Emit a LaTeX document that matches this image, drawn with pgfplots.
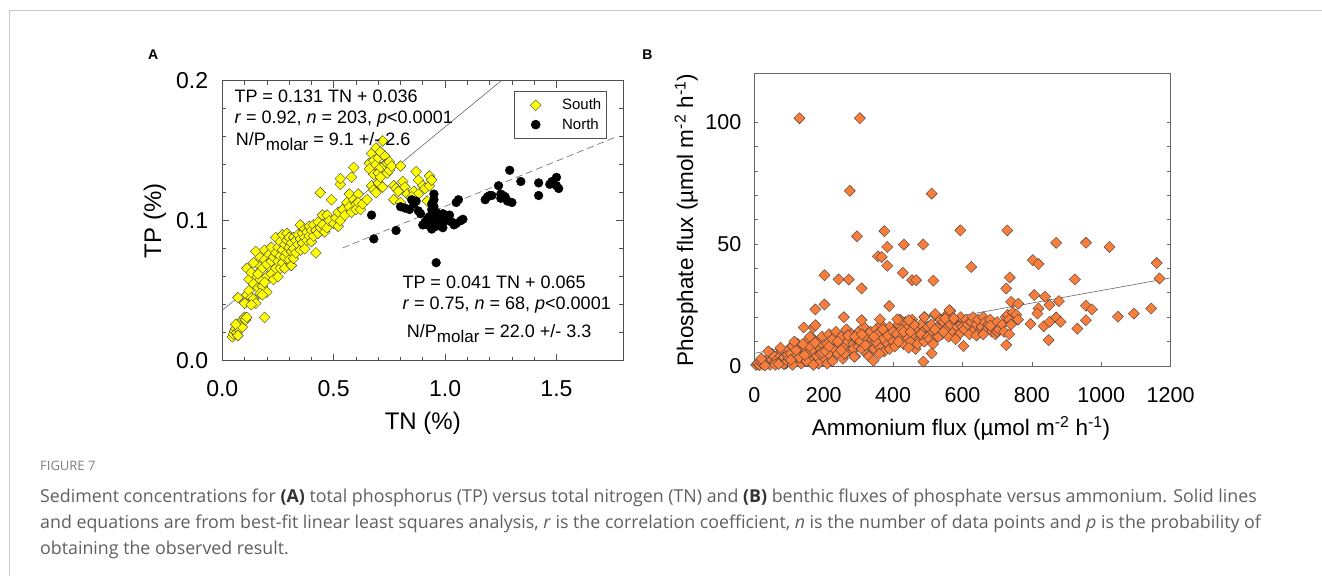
\documentclass[border=0pt]{standalone}
\usepackage{fontspec}
\setmainfont{Liberation Sans}
\newfontfamily\capfont{Open Sans}
\usepackage{pgfplots}
\pgfplotsset{compat=1.18}
\definecolor{southyellow}{RGB}{255,255,0}
\definecolor{fluxorange}{RGB}{250,125,60}
\definecolor{framegray}{RGB}{200,200,200}
\definecolor{capgray}{RGB}{95,95,95}
\definecolor{axgray}{RGB}{80,80,80}

\begin{document}
\begin{tikzpicture}[x=1pt,y=1pt]
\path[use as bounding box] (0,0) rectangle (1322,576);
\draw[framegray, line width=1pt] (9.5,0) -- (9.5,565) -- (1322,565);

% ---------------- Panel A ----------------
\begin{axis}[at={(222.3pt,215.3pt)}, anchor=south west, scale only axis,
  width=401pt, height=280pt,
  xmin=0, xmax=1.8, ymin=0, ymax=0.2,
  xtick={0,0.5,1,1.5}, xticklabels={0.0,0.5,1.0,1.5},
  ytick={0,0.1,0.2}, yticklabels={0.0,0.1,0.2},
  minor x tick num=4, minor y tick num=4,
  tick align=inside, major tick length=7pt, minor tick length=4pt,
  axis line style={axgray, line width=0.9pt},
  every tick/.style={axgray, line width=0.7pt},
  ticklabel style={font=\fontsize{23}{23}\selectfont},
  xticklabel style={anchor=center, yshift=-27.6pt},
  yticklabel style={anchor=east, inner sep=0pt, xshift=-14pt},
  xlabel={TN (\%)}, ylabel={TP (\%)},
  label style={font=\fontsize{24}{24}\selectfont},
  xlabel style={at={(axis description cs:0.5,-0.2236)}, anchor=center},
  ylabel style={at={(axis description cs:-0.1678,0.5)}, anchor=center, rotate=0},
  legend style={at={(axis cs:1.309,0.19286)}, anchor=north west, draw=axgray, line width=0.8pt,
    font=\fontsize{15}{15}\selectfont, inner xsep=4pt, inner ysep=7pt, row sep=5pt,
    nodes={inner sep=1pt}},
  legend cell align=left,
  legend image code/.code={\path (-17pt,0pt) (0pt,0pt); \draw[#1] plot coordinates {(0pt,0pt)}; \path (25pt,0pt);},
  clip=true,
]
\addplot[only marks, mark=square*, mark size=3.8pt,
  mark options={rotate=45, fill=southyellow, draw=black!75, line width=0.4pt}] coordinates {
(0.045,0.017)(0.05,0.019)(0.055,0.021)(0.06,0.023)(0.065,0.020)(0.07,0.025)(0.075,0.022)(0.08,0.027)
(0.085,0.028)(0.09,0.024)(0.095,0.030)(0.10,0.031)(0.105,0.029)(0.11,0.031)(0.07,0.018)(0.06,0.026)(0.19,0.031)
(0.07,0.045)(0.11,0.047)(0.10,0.041)(0.12,0.050)(0.13,0.045)(0.14,0.044)(0.15,0.041)(0.13,0.040)(0.12,0.058)
(0.11,0.066)(0.14,0.055)(0.15,0.061)(0.16,0.052)(0.17,0.058)(0.15,0.078)(0.16,0.069)(0.17,0.074)(0.18,0.066)
(0.18,0.053)(0.19,0.079)(0.19,0.072)(0.20,0.060)(0.20,0.049)(0.21,0.067)(0.21,0.076)(0.13,0.063)(0.14,0.070)
(0.16,0.062)(0.17,0.048)(0.18,0.047)(0.19,0.056)(0.20,0.069)(0.22,0.062)(0.22,0.071)(0.22,0.081)(0.23,0.074)
(0.23,0.058)(0.24,0.077)(0.24,0.066)(0.24,0.088)(0.25,0.071)(0.25,0.081)(0.25,0.060)(0.26,0.075)(0.26,0.085)
(0.26,0.066)(0.27,0.079)(0.27,0.070)(0.27,0.090)(0.28,0.083)(0.28,0.074)(0.28,0.066)(0.29,0.086)(0.29,0.091)
(0.29,0.077)(0.30,0.072)(0.30,0.081)(0.30,0.088)(0.31,0.084)(0.31,0.078)(0.31,0.068)(0.32,0.088)(0.32,0.080)
(0.32,0.073)(0.33,0.086)(0.33,0.077)(0.34,0.090)(0.34,0.083)(0.35,0.097)(0.35,0.087)(0.35,0.079)(0.36,0.091)
(0.36,0.084)(0.37,0.094)(0.37,0.088)(0.37,0.080)(0.38,0.086)(0.38,0.092)(0.39,0.096)(0.39,0.089)(0.40,0.093)
(0.40,0.085)(0.41,0.097)(0.41,0.089)(0.42,0.077)(0.42,0.093)(0.43,0.099)(0.43,0.091)(0.44,0.095)(0.44,0.120)
(0.45,0.104)(0.45,0.097)(0.46,0.092)(0.47,0.095)(0.47,0.104)(0.48,0.100)(0.49,0.115)(0.50,0.098)(0.51,0.102)
(0.52,0.106)(0.52,0.096)(0.53,0.100)(0.53,0.126)(0.53,0.130)(0.54,0.108)(0.55,0.104)(0.56,0.113)(0.57,0.119)
(0.57,0.110)(0.58,0.131)(0.58,0.106)(0.59,0.138)(0.59,0.115)(0.60,0.112)(0.60,0.108)(0.61,0.119)(0.61,0.113)
(0.62,0.108)(0.63,0.112)(0.65,0.115)
(0.66,0.141)(0.66,0.137)(0.67,0.148)(0.67,0.125)(0.68,0.143)(0.68,0.133)(0.68,0.122)(0.69,0.152)(0.69,0.140)
(0.69,0.120)(0.70,0.145)(0.70,0.134)(0.70,0.127)(0.71,0.149)(0.71,0.138)(0.71,0.131)(0.72,0.157)(0.72,0.124)
(0.73,0.146)(0.73,0.140)(0.74,0.141)(0.74,0.134)(0.75,0.142)(0.75,0.136)(0.76,0.139)(0.77,0.125)(0.77,0.115)
(0.78,0.123)(0.79,0.121)(0.80,0.139)(0.80,0.113)(0.81,0.128)(0.82,0.124)(0.83,0.119)(0.86,0.121)(0.87,0.135)
(0.88,0.129)(0.88,0.119)(0.90,0.125)(0.91,0.123)(0.93,0.132)(0.93,0.125)(0.94,0.129)(0.92,0.114)(0.85,0.117)
};
\addlegendentry{South}
\addplot[only marks, mark=*, mark size=4.4pt, mark options={fill=black, draw=black}] coordinates {
(0.67,0.104)(0.68,0.087)(0.78,0.093)(0.96,0.070)(0.80,0.110)(0.82,0.109)(0.84,0.108)(0.85,0.115)(0.86,0.112)
(0.87,0.114)(0.88,0.107)(0.89,0.105)(0.90,0.097)(0.91,0.099)(0.92,0.097)(0.93,0.103)(0.93,0.100)(0.94,0.108)
(0.94,0.112)(0.95,0.119)(0.95,0.115)(0.95,0.104)(0.95,0.098)(0.96,0.101)(0.96,0.096)(0.97,0.100)(0.97,0.103)
(0.98,0.098)(0.99,0.095)(1.00,0.100)(1.01,0.102)(1.02,0.104)(1.03,0.099)(1.04,0.097)(1.05,0.098)(1.05,0.113)
(1.06,0.115)(1.07,0.100)(1.08,0.101)(1.18,0.115)(1.19,0.117)(1.20,0.118)(1.24,0.125)(1.25,0.116)(1.25,0.119)
(1.26,0.118)(1.27,0.117)(1.29,0.136)(1.30,0.113)(1.34,0.128)(1.42,0.127)(1.42,0.118)(1.47,0.126)(1.48,0.128)
(1.50,0.131)(1.50,0.125)(1.51,0.123)(1.00,0.104)(0.92,0.101)(0.94,0.094)(0.97,0.097)(0.99,0.105)(1.02,0.100)
(0.96,0.106)(0.95,0.110)(0.93,0.097)(1.21,0.118)(1.28,0.114)
};
\addlegendentry{North}
\addplot[black!60, line width=0.6pt, forget plot] coordinates {(0,0.036) (1.252,0.2)};
\addplot[black!60, line width=0.6pt, dash pattern=on 7pt off 4pt, forget plot] coordinates {(0.54,0.0805) (1.77,0.160)};
\end{axis}

% ---------------- Panel B ----------------
\begin{axis}[at={(754.4pt,210pt)}, anchor=south west, scale only axis,
  width=416.2pt, height=292.7pt,
  xmin=0, xmax=1200, ymin=0, ymax=120,
  xtick={0,200,400,600,800,1000,1200}, xticklabels={0,200,400,600,800,1000,1200},
  ytick={0,50,100}, yticklabels={0,50,100}, minor y tick num=4,
  xtick pos=bottom, ytick pos=both,
  tick align=inside, major tick length=4pt, minor tick length=4pt,
  axis line style={black!60, line width=0.9pt},
  every tick/.style={black!60, line width=0.7pt},
  ticklabel style={font=\fontsize{21.5}{21.5}\selectfont},
  xticklabel style={anchor=center, yshift=-29pt},
  yticklabel style={anchor=east, inner sep=0pt, xshift=-12.9pt},
  xlabel={Ammonium flux (µmol m\textsuperscript{-2} h\textsuperscript{-1})},
  ylabel={Phosphate flux (µmol m\textsuperscript{-2} h\textsuperscript{-1})},
  label style={font=\fontsize{22.5}{22.5}\selectfont},
  xlabel style={at={(axis description cs:0.4964,-0.2128)}, anchor=center},
  ylabel style={at={(axis description cs:-0.1641,0.4988)}, anchor=center},
  clip=true,
]
\addplot[only marks, mark=square*, mark size=3.95pt,
  mark options={rotate=45, fill=fluxorange, draw=black!75, line width=0.4pt}] coordinates {
(5,0.5)(10,1)(15,0.3)(20,1.5)(25,0.8)(30,2)(35,1)(40,3)(45,0.5)(50,2.5)(55,4)(60,1.5)(65,3)(70,5)(75,2)
(80,6)(85,3.5)(90,1)(95,4.5)(100,7)(30,0.2)(60,0.5)(85,0.8)(50,5)(70,0.8)(95,2)(100,3)(20,3)(40,6)(75,7.5)
(105,5)(110,8)(115,2)(120,4)(125,9)(130,6)(135,1)(140,3)(145,7)(150,10)(155,5)(160,8)(165,2)(170,11)(175,6)
(180,4)(185,9)(190,7)(195,12)(200,3)(110,0.5)(130,3.5)(150,2)(160,12)(175,9.5)(185,1)(190,5)(120,6.5)(140,9)
(200,8.5)(115,10)(105,2.5)(145,4.5)(170,0.5)(195,5.5)
(205,6)(210,9)(215,13)(220,4)(225,11)(230,7)(235,14)(240,5)(245,9)(250,12)(255,3)(260,8)(265,15)(270,10)
(275,6)(280,13)(285,9)(290,4)(295,11)(300,14)(210,1)(225,2)(240,10)(260,5)(270,12.5)(285,7)(300,8)(215,8)
(250,6.5)(290,12)
(305,10)(310,7)(315,16)(320,12)(325,5)(330,9)(335,14)(340,11)(345,7)(350,15)(355,13)(360,8)(365,17)(370,11)
(375,6)(380,14)(385,9)(390,16)(395,12)(400,10)(310,13)(330,4)(350,10)(370,15)(390,7)(320,8.5)(345,12)(360,5)
(385,12.5)(400,14)
(405,8)(410,13)(415,17)(420,11)(425,15)(430,9)(435,18)(440,12)(445,16)(450,10)(455,19)(460,13)(465,7)(470,15)
(475,11)(480,17)(485,14)(490,20)(495,12)(500,16)(415,10)(430,14)(450,14)(470,9)(490,10)(420,19)(445,7.5)
(460,17)(480,13)(500,12)
(505,11)(510,17)(515,14)(520,21)(525,12)(530,16)(535,19)(540,13)(545,18)(550,15)(555,21)(560,12)(565,17)
(570,20)(575,14)(580,18)(585,16)(590,13)(595,17)(600,16)(515,9)(530,12)(550,19.5)(565,22.5)(580,11)(520,15)
(545,14)(595,20)
(605,15)(610,19)(615,17)(620,13)(625,18)(630,20)(635,15)(640,17)(645,19)(650,14)(655,16)(660,20)(665,18)
(670,15)(675,17)(680,19)(685,14)(690,16)(695,13)(700,18)(640,12.5)(660,13)(680,16.5)(700,14)
(705,15)(715,17)(725,20)(730,21)(735,19)(740,17)(745,22)(755,21)(760,19)(720,14)(735,13)
(130,101.6)(304,101.6)(275,71.8)(511,70.7)(296,53.2)(375,55.3)(383,48.8)(431,49.8)(487,49.8)(594,55.6)
(729,55.6)(870,50.5)(956,50.5)(1024,48.8)(356,45.0)(367,44.7)(383,41.1)(625,40.6)(803,43.4)(819,41.8)
(1160,42.2)(202,37.2)(243,35.5)(272,35.5)(428,38.2)(455,35.2)(466,35.2)(516,35.0)(736,36.3)(924,35.5)
(1168,35.9)(309,31.8)(726,31.8)(202,25.2)(176,23.2)(389,24.6)(807,29.1)(838,28.4)(740,26.3)(761,25.6)
(878,26.6)(851,25.0)(819,23.6)(816,21.5)(956,24.7)(973,23.2)(796,17.2)(834,16.3)(851,18.1)(870,19.9)
(883,18.1)(931,15.3)(956,18.8)(1048,20.2)(1094,21.5)(1144,23.6)(848,10.6)(726,8.6)(603,8.2)(511,5.2)
(487,1.8)(343,2.2)(288,3.8)(258,20.0)(170,15.8)(142,15.8)(176,16.7)(309,18.8)(362,19.1)(412,19.1)(445,18.8)
(490,20.0)(562,22.9)(521,21.3)(575,19.5)
};
\addplot[black!60, line width=0.6pt] coordinates {(0,5.2) (1200,36.1)};
\end{axis}

% panel letters
\node[font=\bfseries\fontsize{14}{14}\selectfont] at (153.3,521) {A};
\node[font=\bfseries\fontsize{14}{14}\selectfont] at (647.4,521) {B};

% annotations panel A
\begin{scope}[every node/.style={anchor=base west, inner sep=0pt, font=\fontsize{18}{18}\selectfont}]
\node at (234.3,473.1) {TP = 0.131 TN + 0.036};
\node at (234.3,452.3) {\textit{r} = 0.92, \textit{n} = 203, \textit{p}<0.0001};
\node at (235.7,430.3) {N/P\raisebox{-5pt}{\fontsize{17}{17}\selectfont molar} = 9.1 +/- 2.6};
\node at (402.3,287.9) {TP = 0.041 TN + 0.065};
\node at (402.3,266.3) {\textit{r} = 0.75, \textit{n} = 68, \textit{p}<0.0001};
\node at (406.7,238.6) {N/P\raisebox{-5pt}{\fontsize{17}{17}\selectfont molar} = 22.0 +/- 3.3};
\end{scope}

% caption
\begin{scope}[every node/.style={anchor=base west, inner sep=0pt}]
\node[font=\capfont\fontsize{13}{13}\selectfont, text=capgray!80] at (40,105.4) {FIGURE 7};
\node[font=\capfont\fontsize{17.8}{17.8}\selectfont, text=capgray] at (40,74) {Sediment concentrations for \textbf{\color{black!80}(A)} total phosphorus (TP) versus total nitrogen (TN) and \textbf{\color{black!80}(B)} benthic fluxes of phosphate versus ammonium. Solid lines};
\node[font=\capfont\fontsize{17.8}{17.8}\selectfont, text=capgray] at (40,48) {and equations are from best-fit linear least squares analysis, \textit{r} is the correlation coefficient, \textit{n} is the number of data points and \textit{p} is the probability of};
\node[font=\capfont\fontsize{17.8}{17.8}\selectfont, text=capgray] at (40,22) {obtaining the observed result.};
\end{scope}
\end{tikzpicture}
\end{document}
